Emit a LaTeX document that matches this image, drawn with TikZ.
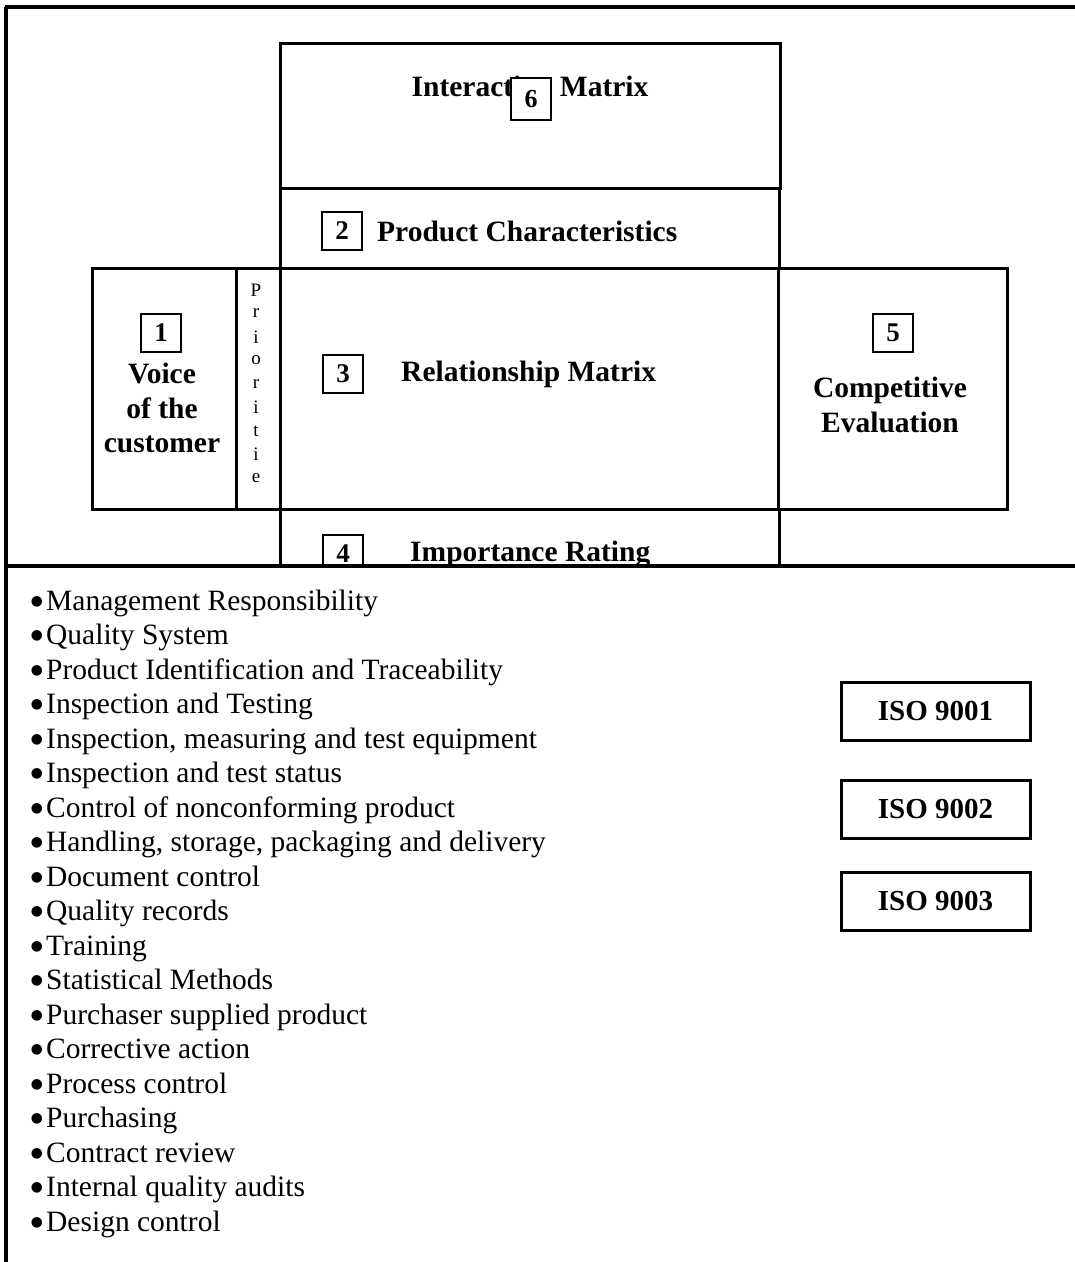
\documentclass[tikz,border=0pt]{standalone}
\usepackage{fontspec}
\setmainfont{Liberation Serif}
\usetikzlibrary{positioning}

\tikzset{
	block/.style 2 args={draw, line width=3pt, anchor=north west, inner sep=0pt,
		minimum width=#1pt, minimum height=#2pt},
	numbox/.style={draw, fill=white, line width=2.5pt, inner sep=0pt,
		minimum width=40pt, minimum height=38pt, font=\fontsize{27}{30}\selectfont\bfseries},
	boldtxt/.style={inner sep=0pt, align=center, font=\fontsize{29.5}{34.5}\selectfont\bfseries},
	prioch/.style={inner sep=0pt, font=\fontsize{19}{22}\selectfont},
	isobox/.style={draw, line width=3pt, inner sep=0pt, minimum width=189pt,
		minimum height=58pt, font=\fontsize{29}{34}\selectfont\bfseries},
	listitem/.style={anchor=base west, inner sep=0pt, font=\fontsize{29.5}{34}\selectfont},
	frame/.style={line width=3.5pt}
}
\def\bul{\raisebox{-6pt}{\scalebox{1.5}{\textbullet}}\hspace{1.5pt}}

\begin{document}
\begin{tikzpicture}[x=1pt, y=-1pt]
		\useasboundingbox (0,0) rectangle (1075,1262);

		% house of quality
		\begin{scope}
			\clip (0,0) rectangle (1075,566);
			\node[block={500}{145}] (inter) at (279,42)  {};
			\node[block={499}{80}]  (prodc) at (279,187) {};
			\node[block={144}{241}] (voice) at (91,267)  {};
			\node[block={44}{241}]  (prio)  at (235,267) {};
			\node[block={498}{241}] (relm)  at (279,267) {};
			\node[block={229}{241}] (compe) at (777,267) {};
			\node[block={499}{80}]  (impr)  at (279,508) {};

			\node[boldtxt] (intertxt) at (530,86) {Interaction Matrix};
			\node[numbox, minimum height=42pt, font=\fontsize{26}{28}\selectfont\bfseries] (n6) at (531,99) {\raisebox{-3pt}{6}};

			\node[numbox] (n2) at (342,231) {2};
			\node[boldtxt, anchor=west] (prodtxt) at (377,231) {Product Characteristics};

			\node[numbox] (n1) at (161,333) {1};
			\node[boldtxt] (voicetxt) at (162,408) {Voice\\of the\\customer};

			\foreach \c [count=\i from 0] in {P,r,i,o,r,i,t,i,e}
				\node[prioch] (p\i) at (256,290+23.5*\i) {\c};

			\node[numbox] (n3) at (343,374) {3};
			\node[boldtxt, anchor=west] (reltxt) at (401,374) {Relationship Matrix};

			\node[numbox] (n5) at (893,333) {5};
			\node[boldtxt] (comptxt) at (890,405) {Competitive\\Evaluation};

			\node[numbox] (n4) at (343,554) {4};
			\node[boldtxt, anchor=west] (imptxt) at (410,555) {Importance Rating};
		\end{scope}

		% frame
		\draw[frame] (5,7) -- (1075,7);
		\draw[frame] (6,7) -- (6,1262);
		\draw[frame] (6,566) -- (1075,566);

		% requirements
		\foreach \t [count=\i from 0] in {Management Responsibility, Quality System,
			Product Identification and Traceability, Inspection and Testing,
			{Inspection, measuring and test equipment}, Inspection and test status,
			Control of nonconforming product, {Handling, storage, packaging and delivery},
			Document control, Quality records, Training, Statistical Methods,
			Purchaser supplied product, Corrective action, Process control,
			Purchasing, Contract review, Internal quality audits, Design control}
			\node[listitem] (r\i) at (29,610+34.5*\i) {\bul\t};

		\node[isobox] (iso1) at (935.5,711) {ISO 9001};
		\node[isobox] (iso2) at (935.5,809) {ISO 9002};
		\node[isobox] (iso3) at (935.5,901) {ISO 9003};
	\end{tikzpicture}
\end{document}
